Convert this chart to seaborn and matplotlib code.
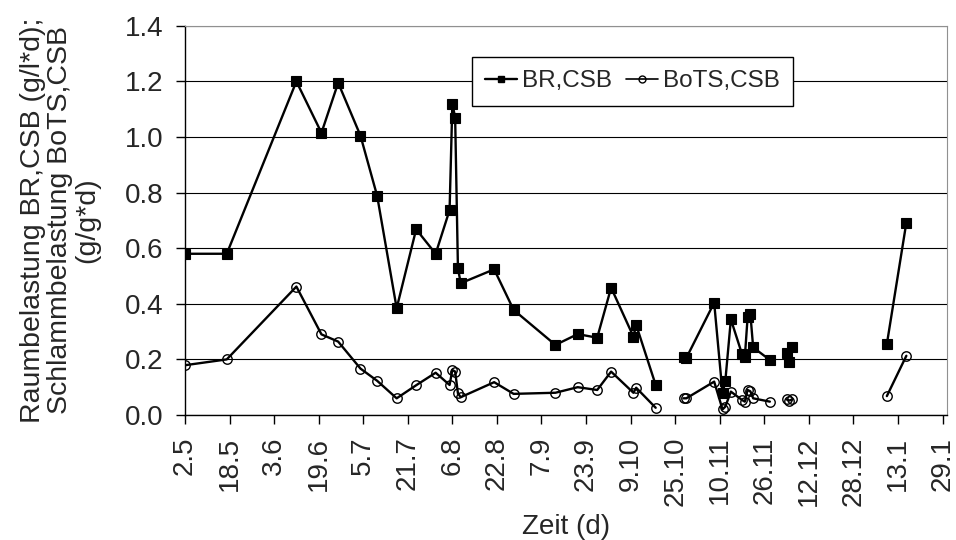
import pandas as pd
import matplotlib.pyplot as plt
import seaborn as sns
from matplotlib.lines import Line2D

# Tage seit dem 2.5.
tag = [0, 15, 40, 49, 55, 63, 69, 76, 83, 90, 95, 96, 97, 98, 99, 111, 118, 133, 141, 148, 153, 161, 162, 169,
       179, 180, 190, 193, 194, 196, 200, 201, 202, 203, 204, 210,
       216, 217, 218,
       252, 259]
# Messabschnitte (Luecken in der Linie)
abschnitt = [0, 0, 0, 0, 0, 0, 0, 0, 0, 0, 0, 0, 0, 0, 0, 0, 0, 0, 0, 0, 0, 0, 0, 0,
             1, 1, 1, 1, 1, 1, 1, 1, 1, 1, 1, 1,
             2, 2, 2,
             3, 3]
br_csb = [0.58, 0.58, 1.20, 1.015, 1.195, 1.005, 0.788, 0.384, 0.668, 0.58, 0.737, 1.12, 1.07, 0.528, 0.474,
          0.524, 0.378, 0.252, 0.291, 0.278, 0.458, 0.282, 0.324, 0.108,
          0.207, 0.205, 0.404, 0.078, 0.122, 0.344, 0.219, 0.207, 0.351, 0.363, 0.243, 0.198,
          0.224, 0.192, 0.246,
          0.255, 0.692]
bots_csb = [0.179, 0.20, 0.462, 0.29, 0.264, 0.167, 0.123, 0.06, 0.107, 0.152, 0.108, 0.162, 0.156, 0.078, 0.064,
            0.118, 0.076, 0.08, 0.10, 0.09, 0.156, 0.08, 0.098, 0.026,
            0.06, 0.06, 0.12, 0.02, 0.03, 0.084, 0.054, 0.048, 0.09, 0.085, 0.06, 0.048,
            0.056, 0.052, 0.056,
            0.068, 0.213]

tick_tage = [0, 16, 32, 48, 64, 80, 96, 112, 128, 144, 160, 176, 192, 208, 224, 240, 256, 272]
tick_labels = ["2.5", "18.5", "3.6", "19.6", "5.7", "21.7", "6.8", "22.8", "7.9", "23.9",
               "9.10", "25.10", "10.11", "26.11", "12.12", "28.12", "13.1", "29.1"]

df = pd.DataFrame({"tag": tag, "abschnitt": abschnitt, "br": br_csb, "bots": bots_csb})

sns.set_style("white")
plt.rcParams["font.family"] = ["Liberation Sans", "DejaVu Sans"]
fs = 20

fig, ax = plt.subplots(figsize=(9.56, 5.4), dpi=100)
fig.subplots_adjust(left=0.1935, right=0.9906, bottom=0.2315, top=0.9522)

sns.lineplot(data=df, x="tag", y="br", units="abschnitt", estimator=None, sort=False,
             color="black", lw=1.7, marker="s", markersize=6.8,
             markeredgecolor="black", markerfacecolor="black", markeredgewidth=0.8,
             legend=False, ax=ax)
sns.lineplot(data=df, x="tag", y="bots", units="abschnitt", estimator=None, sort=False,
             color="black", lw=1.7, marker="o", markersize=6.8,
             markeredgecolor="black", markerfacecolor="none", markeredgewidth=1.0,
             legend=False, ax=ax)

ax.set_xlim(0, 273.6)
ax.set_ylim(0, 1.4)
ax.set_xticks(tick_tage)
ax.set_xticklabels(tick_labels, rotation=90)
ax.set_yticks([0.0, 0.2, 0.4, 0.6, 0.8, 1.0, 1.2, 1.4])
ax.set_yticklabels([f"{v:.1f}" for v in [0.0, 0.2, 0.4, 0.6, 0.8, 1.0, 1.2, 1.4]])
ax.tick_params(axis="both", direction="out", length=6.5, width=1, color="black",
               labelsize=fs, bottom=True, left=True)
ax.tick_params(axis="x", pad=9)
ax.tick_params(axis="y", pad=9)

ax.yaxis.grid(True, color="black", lw=0.8)
ax.xaxis.grid(False)
ax.set_axisbelow(True)

for s in ["left", "bottom"]:
    ax.spines[s].set_color("black")
    ax.spines[s].set_linewidth(1)
for s in ["top", "right"]:
    ax.spines[s].set_color("#909090")
    ax.spines[s].set_linewidth(0.8)

ax.set_xlabel("Zeit (d)", fontsize=fs, labelpad=6)
ax.set_ylabel("Raumbelastung BR,CSB (g/l*d);\nSchlammbelastung BoTS,CSB\n(g/g*d)",
              fontsize=20.5, linespacing=1.05)
ax.yaxis.set_label_coords(-0.1115, 0.5)

handles = [
    Line2D([], [], color="black", lw=1.7, marker="s", markersize=5,
           markerfacecolor="black", markeredgecolor="black"),
    Line2D([], [], color="black", lw=1.2, marker="o", markersize=5,
           markerfacecolor="none", markeredgecolor="black"),
]
leg = ax.legend(handles, ["BR,CSB", "BoTS,CSB"], ncol=2, loc="upper left",
                bbox_to_anchor=(0.3766, 0.92), fontsize=17.5, frameon=True, fancybox=False,
                framealpha=1, edgecolor="black", borderaxespad=0, borderpad=0.55,
                handlelength=1.3, handletextpad=0.2, columnspacing=0.6)
leg.get_frame().set_linewidth(1)

fig.savefig("out.png", dpi=100)
plt.close(fig)
